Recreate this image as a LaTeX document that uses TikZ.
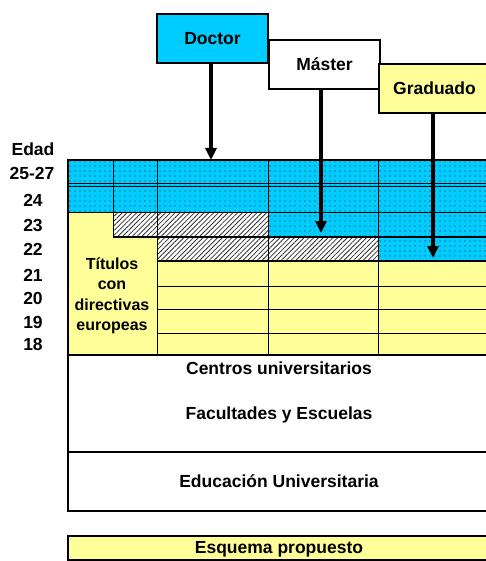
\documentclass[tikz,border=0pt]{standalone}
\usepackage{fontspec}
\setmainfont{Liberation Sans}
\usetikzlibrary{patterns.meta,arrows.meta}
\definecolor{cyanb}{HTML}{00CCFF}
\definecolor{yel}{HTML}{FFFF99}
\begin{document}
\begin{tikzpicture}[x=1pt,y=1pt,
  lbl/.style={font=\fontsize{17.5}{19}\selectfont\bfseries, inner sep=0pt},
  sml/.style={font=\fontsize{16}{20.5}\selectfont\bfseries, inner sep=0pt, align=center},
  topbox/.style={draw, line width=2pt, minimum width=111pt, minimum height=49pt, anchor=north west, inner sep=0pt, font=\fontsize{17.5}{19}\selectfont\bfseries},
  arr/.style={line width=3.2pt, -{Triangle[length=12pt,width=11pt]}},
  grid/.style={line width=1pt},
  bord/.style={line width=2.2pt},
  dotsp/.style={pattern={Dots[distance=5pt,radius=0.6pt]}, pattern color=black!85},
  hatchp/.style={pattern={Lines[angle=45,distance=3.4pt,line width=0.8pt]}, pattern color=black!80}
]
\useasboundingbox (0,0) rectangle (486,-561);
\clip (0,0) rectangle (486,-561);
% fills
\fill[yel] (68,-212) rectangle (490,-355);
\fill[cyanb] (68,-160) rectangle (490,-212);
\fill[cyanb] (268,-212) rectangle (490,-237);
\fill[cyanb] (378,-237) rectangle (490,-261);
\fill[dotsp] (68,-160) rectangle (490,-212);
\fill[dotsp] (268,-212) rectangle (490,-237);
\fill[dotsp] (378,-237) rectangle (490,-261);
\fill[white] (113,-212) rectangle (268,-237);
\fill[white] (157,-237) rectangle (378,-261);
\fill[hatchp] (113,-212) rectangle (268,-237);
\fill[hatchp] (157,-237) rectangle (378,-261);
% grid lines
\draw[grid] (68,-184) -- (490,-184);
\draw[grid] (68,-187) -- (490,-187);
\draw[grid] (68,-212) -- (490,-212);
\draw[line width=1.5pt] (113,-237) -- (490,-237);
\draw[line width=1.3pt] (157,-261) -- (490,-261);
\draw[grid] (157,-286) -- (490,-286);
\draw[grid] (157,-309) -- (490,-309);
\draw[grid] (157,-333) -- (490,-333);
\draw[grid] (113,-160) -- (113,-237);
\draw[grid] (157,-160) -- (157,-355);
\draw[grid] (268,-160) -- (268,-355);
\draw[grid] (378,-160) -- (378,-355);
% outer borders
\draw[bord] (68,-160) rectangle (490,-355);
\draw[bord] (68,-355) rectangle (490,-452);
\draw[bord] (68,-452) rectangle (490,-511);
\draw[bord, fill=yel] (68,-536) rectangle (490,-560);
% top boxes
\node[topbox, fill=cyanb] (doctor) at (156,-13) {Doctor};
\node[topbox, fill=white] (master) at (268,-39) {Máster};
\node[topbox, fill=yel] (grad) at (378,-63) {Graduado};
\coordinate (dtip) at (211,-160);
\coordinate (mtip) at (321,-233);
\coordinate (gtip) at (433,-258);
\draw[arr] (doctor.south -| dtip) -- (dtip);
\draw[arr] (master.south -| mtip) -- (mtip);
\draw[arr] (grad.south -| gtip) -- (gtip);
% left labels
\node[lbl] (edad) at (33,-149) {Edad};
\node[lbl] (a2527) at (32,-173) {25-27};
\node[lbl] (a24) at (33,-200) {24};
\node[lbl] (a23) at (33,-225) {23};
\node[lbl] (a22) at (33,-249) {22};
\node[lbl] (a21) at (33,-275) {21};
\node[lbl] (a20) at (33,-298) {20};
\node[lbl] (a19) at (33,-322) {19};
\node[lbl] (a18) at (33,-344) {18};
\node[sml] (titulos) at (112,-296) {Títulos\\con\\directivas\\europeas};
% lower texts
\node[lbl] (centros) at (279,-368) {Centros universitarios};
\node[lbl] (facult) at (279,-415) {Facultades y Escuelas};
\node[lbl] (educ) at (279,-481) {Educación Universitaria};
\node[lbl] (esquema) at (279,-549) {Esquema propuesto};
\end{tikzpicture}
\end{document}
